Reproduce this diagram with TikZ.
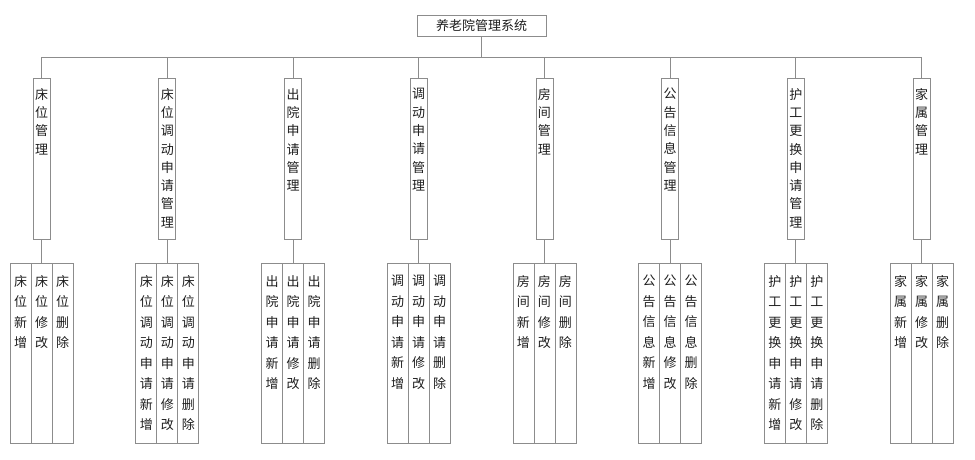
\documentclass[tikz,border=0pt]{standalone}
\usepackage{fontspec}
\setmainfont{Noto Sans CJK SC}
\definecolor{linegray}{HTML}{8C8C8C}
\definecolor{textgray}{HTML}{1E1E1E}
\begin{document}
\begin{tikzpicture}[x=1pt,y=-1pt,
  conn/.style={draw=linegray, line width=0.8pt},
  box/.style={draw=linegray, line width=0.8pt, fill=white, inner sep=0pt},
  rootbox/.style={box, minimum width=129pt, minimum height=21pt, text=textgray, font=\fontsize{13}{15}\selectfont},
  lonebox/.style={box, anchor=north, minimum width=17pt, minimum height=161pt},
  ltwobox/.style={box, anchor=north, minimum width=21pt, minimum height=180pt},
  lonetext/.style={anchor=north, inner sep=0pt, align=center, text=textgray, font=\fontsize{13}{18.3}\selectfont},
  ltwotext/.style={anchor=north, inner sep=0pt, align=center, text=textgray, font=\fontsize{13}{20.5}\selectfont}]
\useasboundingbox (0,0) rectangle (975,459);
\node[rootbox] (root) at (481.5,25.5) {养老院管理系统};
\coordinate (bus) at (481.5,57);
\foreach \i/\x/\p in {1/41.5/床\\位, 2/167.3/床\\位\\调\\动\\申\\请, 3/293/出\\院\\申\\请, 4/418.7/调\\动\\申\\请, 5/544.4/房\\间, 6/670.1/公\\告\\信\\息, 7/795.8/护\\工\\更\\换\\申\\请, 8/921.5/家\\属}{
  \node[lonebox] (A\i) at (\x,78) {};
  \node[lonetext] (At\i) at ([yshift=-10pt]A\i.north) {\p\\管\\理};
  \draw[conn] (root.south) -- (root.south |- bus) -| (A\i.north);
  \node[ltwobox] (B\i-2) at (\x,263) {};
  \node[ltwobox] (B\i-1) at ([xshift=-21pt]B\i-2.north) {};
  \node[ltwobox] (B\i-3) at ([xshift=21pt]B\i-2.north) {};
  \draw[conn] (A\i.south) -- (B\i-2.north);
  \node[ltwotext] (Bt\i-1) at ([yshift=-12pt]B\i-1.north) {\p\\新\\增};
  \node[ltwotext] (Bt\i-2) at ([yshift=-12pt]B\i-2.north) {\p\\修\\改};
  \node[ltwotext] (Bt\i-3) at ([yshift=-12pt]B\i-3.north) {\p\\删\\除};
}
\end{tikzpicture}
\end{document}
